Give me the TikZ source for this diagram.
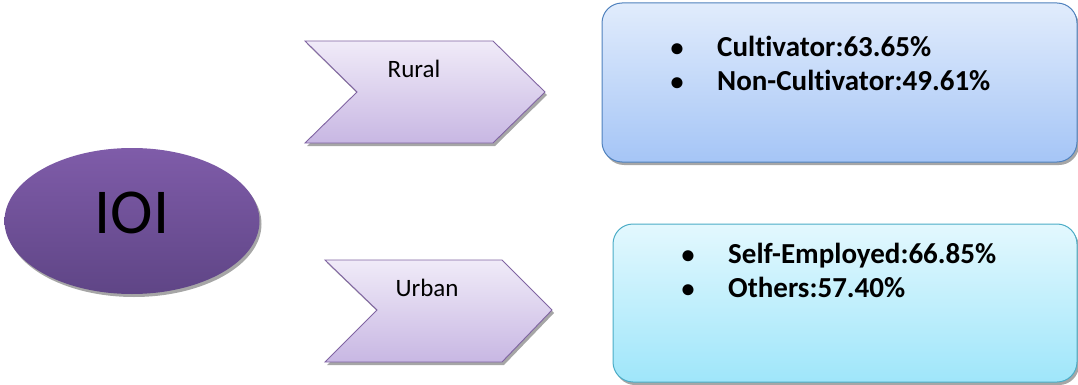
\documentclass[tikz,border=0pt]{standalone}
\usepackage{fontspec}
\setmainfont[Ligatures=NoCommon]{Carlito}
\usetikzlibrary{shapes.geometric,shadows}
\definecolor{purpTop}{HTML}{7F5CA9}
\definecolor{purpBot}{HTML}{5F4586}
\definecolor{chevTop}{HTML}{F0EBF8}
\definecolor{chevBot}{HTML}{C8B7E3}
\definecolor{chevLine}{HTML}{8064A2}
\definecolor{blueTop}{HTML}{E1ECFC}
\definecolor{blueBot}{HTML}{A5C5F6}
\definecolor{blueLine}{HTML}{4F81BD}
\definecolor{cyanTop}{HTML}{E3F8FE}
\definecolor{cyanBot}{HTML}{9FE6FA}
\definecolor{cyanLine}{HTML}{4BACC6}
\tikzset{
  myshadow/.style={drop shadow={shadow xshift=2pt, shadow yshift=-3pt, fill=black, opacity=0.35}},
  chev/.style={draw=chevLine, line width=0.9pt, top color=chevTop, bottom color=chevBot, myshadow},
  chevtext/.style={anchor=base, font=\fontsize{25}{30}\selectfont, inner sep=0pt},
  infobox/.style={rounded corners=20pt, line width=1pt, myshadow, inner sep=0pt},
  bul/.style={anchor=base, font=\bfseries\fontsize{26}{32}\selectfont, inner sep=0pt},
  item/.style={anchor=base west, font=\bfseries\fontsize{29}{34}\selectfont, inner sep=0pt}
}
\begin{document}
\begin{tikzpicture}[x=1pt,y=-1pt]
\useasboundingbox (0,0) rectangle (1078,385);
% IOI ellipse
\node[ellipse, minimum width=255pt, minimum height=146pt, top color=purpTop, bottom color=purpBot, draw=none, myshadow] (ioi) at (132,221) {};
\node[anchor=base, font=\fontsize{64}{70}\selectfont, inner sep=0pt] (ioitext) at (132,233) {IOI};
% Rural chevron
\path[chev] (305,41) -- (493,41) -- (545,92) -- (493,143) -- (305,143) -- (357,92) -- cycle;
\node[chevtext] (rural) at (414,78) {Rural};
% Urban chevron
\path[chev] (325,260) -- (502,260) -- (552,310) -- (502,362) -- (325,362) -- (377,310) -- cycle;
\node[chevtext] (urban) at (427,296) {Urban};
% Top box
\node[infobox, draw=blueLine, top color=blueTop, bottom color=blueBot, minimum width=475pt, minimum height=159pt] (rbox) at (839.5,82.5) {};
\node[bul] (b1) at (677,57) {•};
\node[item] (t1) at (717,57) {Cultivator:63.65\%};
\node[bul] (b2) at (677,91) {•};
\node[item] (t2) at (717,91) {Non-Cultivator:49.61\%};
% Bottom box
\node[infobox, draw=cyanLine, top color=cyanTop, bottom color=cyanBot, minimum width=464pt, minimum height=158pt] (ubox) at (845,303) {};
\node[bul] (b3) at (688,263) {•};
\node[item] (t3) at (728,263) {Self-Employed:66.85\%};
\node[bul] (b4) at (688,297) {•};
\node[item] (t4) at (728,297) {Others:57.40\%};
\end{tikzpicture}
\end{document}
